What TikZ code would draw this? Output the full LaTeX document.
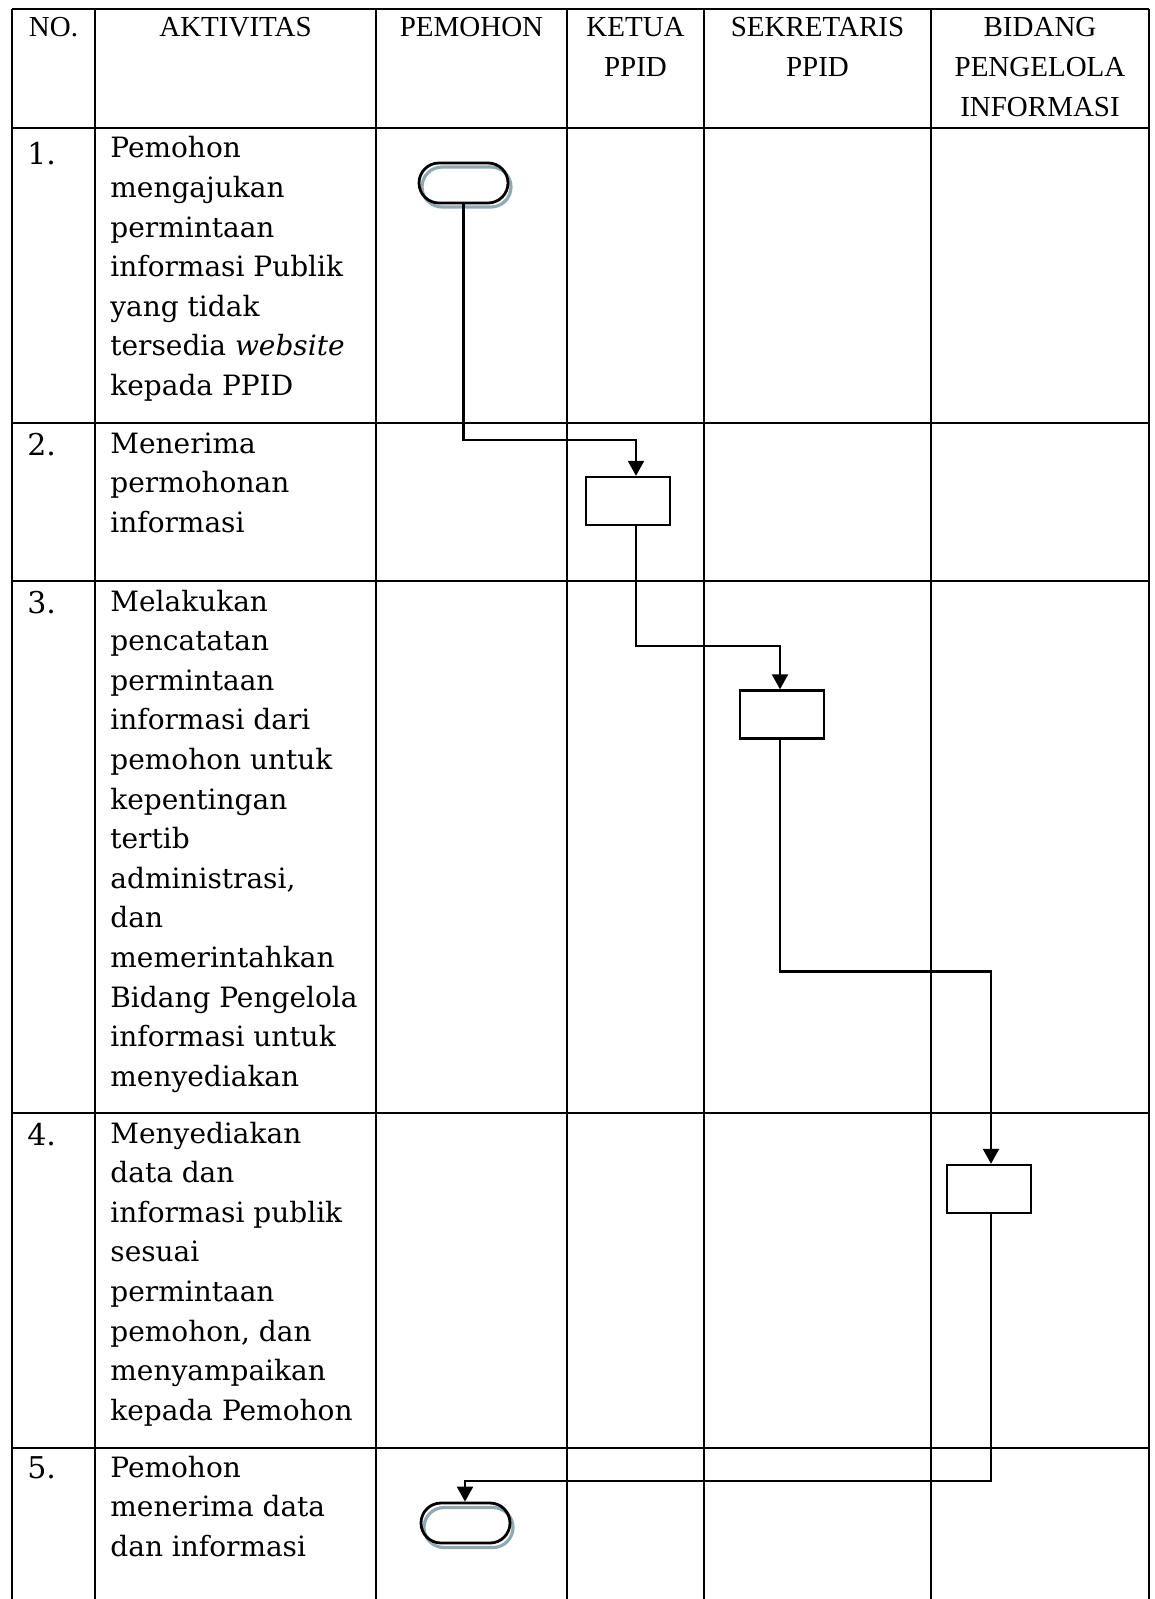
\documentclass[tikz,border=0pt]{standalone}
\usepackage{fontspec}
\setmainfont{DejaVu Serif}
\newfontfamily\headfont{Liberation Serif}
\usepackage{xcolor}
\usepackage{tikz}
\usetikzlibrary{arrows.meta}

\definecolor{shadowblue}{RGB}{143,170,178}

\newcommand{\rowtext}[1]{\begin{tabular}[t]{@{}l@{}}#1\end{tabular}}
\newcommand{\headtext}[1]{\begin{tabular}[t]{@{}c@{}}#1\end{tabular}}

\tikzset{
    grid/.style={line width=1.3pt},
    head/.style={font=\headfont\fontsize{14.5}{19.85}\selectfont, anchor=base, inner sep=0pt},
    txt/.style={font=\fontsize{14}{19.8}\selectfont, anchor=base west, inner sep=0pt},
    num/.style={font=\fontsize{15}{19.8}\selectfont, anchor=base west, inner sep=0pt},
    proc/.style={draw, line width=1.2pt, minimum width=42pt, minimum height=24pt, inner sep=0pt},
    term/.style={draw, line width=1.4pt, rounded corners=10pt, minimum width=44.5pt, minimum height=20pt, inner sep=0pt},
    termshadow/.style={term, draw=shadowblue, line width=1.6pt},
    flow/.style={line width=1.1pt, -{Triangle[width=8pt,length=7.5pt]}},
}

\begin{document}
\begin{tikzpicture}[x=0.5pt, y=-0.5pt]
        \useasboundingbox (0,0) rectangle (1155,1599);

        \draw[grid] (12,9) -- (1149,9);
        \draw[grid] (12,128) -- (1149,128);
        \draw[grid] (12,423) -- (1149,423);
        \draw[grid] (12,581) -- (1149,581);
        \draw[grid] (12,1113) -- (1149,1113);
        \draw[grid] (12,1448) -- (1149,1448);
        \draw[grid] (12,9) -- (12,1599);
        \draw[grid] (95,9) -- (95,1599);
        \draw[grid] (376,9) -- (376,1599);
        \draw[grid] (567,9) -- (567,1599);
        \draw[grid] (704,9) -- (704,1599);
        \draw[grid] (931,9) -- (931,1599);
        \draw[grid] (1149,9) -- (1149,1599);

        \node[head] (hno)  at (53.5,37)  {\headtext{NO.}};
        \node[head] (hakt) at (235.5,37) {\headtext{AKTIVITAS}};
        \node[head] (hpem) at (471.5,37) {\headtext{PEMOHON}};
        \node[head] (hket) at (635.5,37) {\headtext{KETUA\\PPID}};
        \node[head] (hsek) at (817.5,37) {\headtext{SEKRETARIS\\PPID}};
        \node[head] (hbid) at (1040,37)  {\headtext{BIDANG\\PENGELOLA\\INFORMASI}};

        \node[num] (no1) at (27,165)  {1.};
        \node[num] (no2) at (27,455)  {2.};
        \node[num] (no3) at (27,613)  {3.};
        \node[num] (no4) at (27,1145) {4.};
        \node[num] (no5) at (27,1478) {5.};

        \node[txt] (act1) at (110,158) {\rowtext{Pemohon\\mengajukan\\permintaan\\informasi Publik\\yang tidak\\tersedia \textit{website}\\kepada PPID}};
        \node[txt] (act2) at (110,453) {\rowtext{Menerima\\permohonan\\informasi}};
        \node[txt] (act3) at (110,611) {\rowtext{Melakukan\\pencatatan\\permintaan\\informasi dari\\pemohon untuk\\kepentingan\\tertib\\administrasi,\\dan\\memerintahkan\\Bidang Pengelola\\informasi untuk\\menyediakan}};
        \node[txt] (act4) at (110,1143) {\rowtext{Menyediakan\\data dan\\informasi publik\\sesuai\\permintaan\\pemohon, dan\\menyampaikan\\kepada Pemohon}};
        \node[txt] (act5) at (110,1477) {\rowtext{Pemohon\\menerima data\\dan informasi}};

        \node[termshadow] (t1s) at (466.5,187) {};
        \node[term] (t1) at (463.5,183) {};
        \node[proc] (b2) at (628,501) {};
        \node[proc] (b3) at (782,714.5) {};
        \node[proc] (b4) at (989,1189) {};
        \node[termshadow] (t2s) at (468.5,1527.5) {};
        \node[term] (t2) at (465.5,1523) {};

        \coordinate (c1) at (636,440);
        \coordinate (c2) at (780,646);
        \coordinate (c3) at (991,971.5);
        \coordinate (c4) at (465,1481);

        \draw[flow] (t1.south) |- (c1) -- (c1 |- b2.north);
        \draw[flow] (b2.south -| c1) |- (c2) -- (c2 |- b3.north);
        \draw[flow] (b3.south -| c2) |- (c3) -- (c3 |- b4.north);
        \draw[flow] (b4.south -| c3) |- (c4) -- (c4 |- t2.north);
    \end{tikzpicture}
\end{document}
